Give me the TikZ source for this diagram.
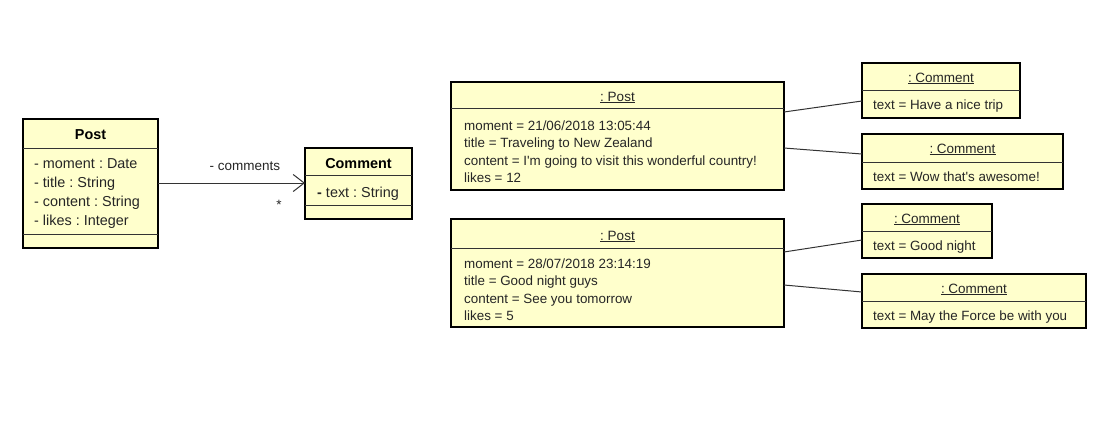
\documentclass[tikz,border=0pt]{standalone}
\usepackage{fontspec}
\setmainfont{Liberation Sans}[Ligatures=TeXOff]
\usetikzlibrary{arrows.meta}
\definecolor{umlfill}{RGB}{255,255,204}
\frenchspacing
\tikzset{
  x=1pt,y=1pt,
  umlbox/.style={draw=black, line width=2pt, fill=umlfill, inner sep=0pt, outer sep=0pt},
  divider/.style={draw=black!80, line width=0.9pt},
  conn/.style={draw=black!80, line width=1pt},
  objtxt/.style={anchor=base west, inner sep=0pt, font=\frenchspacing\fontsize{13.4}{15}\selectfont, text=black!85},
  clstxt/.style={anchor=base west, inner sep=0pt, font=\frenchspacing\fontsize{14.4}{16}\selectfont, text=black!85},
  hdr/.style={anchor=base, inner sep=0pt, font=\frenchspacing\fontsize{13.5}{15}\selectfont, text=black!85},
  clshdr/.style={anchor=base, inner sep=0pt, font=\bfseries\fontsize{14.4}{16}\selectfont},
}
\begin{document}
\begin{tikzpicture}
\useasboundingbox[fill=white] (0,0) rectangle (1101,-424);

% ---- class Post ----
\node[umlbox, minimum width=135, minimum height=129] (cpost) at (90.5,-183.5) {};
\draw[divider] (cpost.west |- 0,-148) -- (cpost.east |- 0,-148);
\draw[divider] (cpost.west |- 0,-234) -- (cpost.east |- 0,-234);
\node[clshdr] (cposth) at (90.5,-139) {Post};
\node[clstxt] (cpa1) at (34,-168) {- moment : Date};
\node[clstxt] (cpa2) at (34,-187) {- title : String};
\node[clstxt] (cpa3) at (34,-206) {- content : String};
\node[clstxt] (cpa4) at (34,-225) {- likes : Integer};

% ---- class Comment ----
\node[umlbox, minimum width=107, minimum height=71] (ccom) at (358.5,-183.5) {};
\draw[divider] (ccom.west |- 0,-175) -- (ccom.east |- 0,-175);
\draw[divider] (ccom.west |- 0,-205) -- (ccom.east |- 0,-205);
\node[clshdr] (ccomh) at (358.5,-168) {Comment};
\node[clstxt] (cca1) at (317,-197) {\textbf{-} text : String};

% association
\draw[conn, -{Straight Barb[length=11pt,width=17pt,line width=1pt]}] (cpost.east |- 0,-183) -- (ccom.west |- 0,-183);
\node[hdr] (lblcomments) at (245,-170) {- comments};
\node[hdr] (lblstar) at (279,-209) {*};

% ---- object Post 1 ----
\node[umlbox, minimum width=333, minimum height=108] (p1) at (617.5,-136) {};
\draw[divider] (p1.west |- 0,-108) -- (p1.east |- 0,-108);
\node[hdr] (p1h) at (617.5,-101) {\underline{: Post}};
\node[objtxt] (p1a) at (464,-130) {moment = 21/06/2018 13:05:44};
\node[objtxt] (p1b) at (464,-147.5) {title = Traveling to New Zealand};
\node[objtxt] (p1c) at (464,-165) {content = I'm going to visit this wonderful country!};
\node[objtxt] (p1d) at (464,-182.5) {likes = 12};

% ---- object Post 2 ----
\node[umlbox, minimum width=333, minimum height=108] (p2) at (617.5,-273) {};
\draw[divider] (p2.west |- 0,-248) -- (p2.east |- 0,-248);
\node[hdr] (p2h) at (617.5,-240) {\underline{: Post}};
\node[objtxt] (p2a) at (464,-268) {moment = 28/07/2018 23:14:19};
\node[objtxt] (p2b) at (464,-285.5) {title = Good night guys};
\node[objtxt] (p2c) at (464,-303) {content = See you tomorrow};
\node[objtxt] (p2d) at (464,-320.5) {likes = 5};

% ---- object Comments ----
\node[umlbox, minimum width=158, minimum height=55] (c1) at (941,-90.5) {};
\draw[divider] (c1.west |- 0,-90) -- (c1.east |- 0,-90);
\node[hdr] (c1h) at (941,-82) {\underline{: Comment}};
\node[objtxt] (c1a) at (873,-109) {text = Have a nice trip};

\node[umlbox, minimum width=201, minimum height=55] (c2) at (962.5,-161.5) {};
\draw[divider] (c2.west |- 0,-162) -- (c2.east |- 0,-162);
\node[hdr] (c2h) at (962.5,-153) {\underline{: Comment}};
\node[objtxt] (c2a) at (873,-181) {text = Wow that's awesome!};

\node[umlbox, minimum width=130, minimum height=54] (c3) at (927,-231) {};
\draw[divider] (c3.west |- 0,-231) -- (c3.east |- 0,-231);
\node[hdr] (c3h) at (927,-223) {\underline{: Comment}};
\node[objtxt] (c3a) at (873,-250) {text = Good night};

\node[umlbox, minimum width=224, minimum height=54] (c4) at (974,-301) {};
\draw[divider] (c4.west |- 0,-301) -- (c4.east |- 0,-301);
\node[hdr] (c4h) at (974,-293) {\underline{: Comment}};
\node[objtxt] (c4a) at (873,-320) {text = May the Force be with you};

% links
\draw[conn] (p1.east |- 0,-112) -- (c1.west |- 0,-101);
\draw[conn] (p1.east |- 0,-148) -- (c2.west |- 0,-154);
\draw[conn] (p2.east |- 0,-252) -- (c3.west |- 0,-240);
\draw[conn] (p2.east |- 0,-285) -- (c4.west |- 0,-292);
\end{tikzpicture}
\end{document}
